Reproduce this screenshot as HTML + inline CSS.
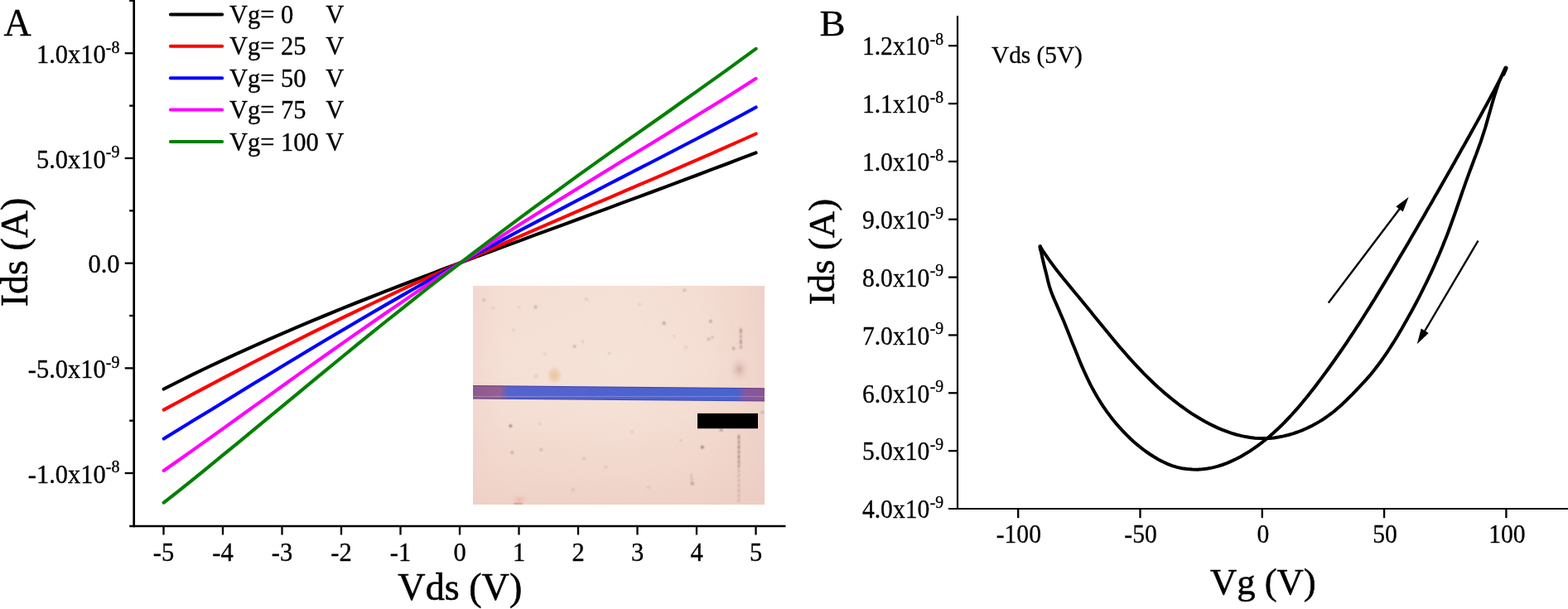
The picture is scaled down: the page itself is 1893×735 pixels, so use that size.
<!DOCTYPE html>
<html lang="en">
<head>
<meta charset="utf-8">
<title>Ids-Vds and Ids-Vg characteristics</title>
<style>
html, body { margin: 0; padding: 0; background: #ffffff; }
body { width: 1893px; height: 735px; overflow: hidden; }
svg { display: block; }
text { font-family: "Liberation Serif", "Times New Roman", serif; fill: #000; stroke: #000; stroke-width: 0.33px; stroke-linejoin: round; }
.pb text { stroke-width: 0.3px; }
text.ttl, .pb text.ttl { stroke-width: 0.55px; }
</style>
</head>
<body>
<svg width="1893" height="735" viewBox="0 0 1893 735">
<rect x="0" y="0" width="1893" height="735" fill="#ffffff"/>
<line x1="161.7" y1="0" x2="161.7" y2="636.35" stroke="#000" stroke-width="2.7"/>
<line x1="156.2" y1="635.0" x2="948.5" y2="635.0" stroke="#000" stroke-width="2.7"/>
<line x1="150.7" y1="571.05" x2="161.7" y2="571.05" stroke="#000" stroke-width="2.3"/>
<line x1="156.2" y1="507.70" x2="161.7" y2="507.70" stroke="#000" stroke-width="2.3"/>
<line x1="150.7" y1="444.35" x2="161.7" y2="444.35" stroke="#000" stroke-width="2.3"/>
<line x1="156.2" y1="381.00" x2="161.7" y2="381.00" stroke="#000" stroke-width="2.3"/>
<line x1="150.7" y1="317.65" x2="161.7" y2="317.65" stroke="#000" stroke-width="2.3"/>
<line x1="156.2" y1="254.30" x2="161.7" y2="254.30" stroke="#000" stroke-width="2.3"/>
<line x1="150.7" y1="190.95" x2="161.7" y2="190.95" stroke="#000" stroke-width="2.3"/>
<line x1="156.2" y1="127.60" x2="161.7" y2="127.60" stroke="#000" stroke-width="2.3"/>
<line x1="150.7" y1="64.25" x2="161.7" y2="64.25" stroke="#000" stroke-width="2.3"/>
<line x1="156.2" y1="0.90" x2="161.7" y2="0.90" stroke="#000" stroke-width="2.3"/>
<line x1="197.50" y1="635.0" x2="197.50" y2="645.5" stroke="#000" stroke-width="2.3"/>
<line x1="269.00" y1="635.0" x2="269.00" y2="645.5" stroke="#000" stroke-width="2.3"/>
<line x1="340.50" y1="635.0" x2="340.50" y2="645.5" stroke="#000" stroke-width="2.3"/>
<line x1="412.00" y1="635.0" x2="412.00" y2="645.5" stroke="#000" stroke-width="2.3"/>
<line x1="483.50" y1="635.0" x2="483.50" y2="645.5" stroke="#000" stroke-width="2.3"/>
<line x1="555.00" y1="635.0" x2="555.00" y2="645.5" stroke="#000" stroke-width="2.3"/>
<line x1="626.50" y1="635.0" x2="626.50" y2="645.5" stroke="#000" stroke-width="2.3"/>
<line x1="698.00" y1="635.0" x2="698.00" y2="645.5" stroke="#000" stroke-width="2.3"/>
<line x1="769.50" y1="635.0" x2="769.50" y2="645.5" stroke="#000" stroke-width="2.3"/>
<line x1="841.00" y1="635.0" x2="841.00" y2="645.5" stroke="#000" stroke-width="2.3"/>
<line x1="912.50" y1="635.0" x2="912.50" y2="645.5" stroke="#000" stroke-width="2.3"/>
<text x="144.5" y="76.05" font-size="30.5" text-anchor="end">1.0x10<tspan font-size="20.0" dy="-12.5">-8</tspan></text>
<text x="144.5" y="202.75" font-size="30.5" text-anchor="end">5.0x10<tspan font-size="20.0" dy="-12.5">-9</tspan></text>
<text x="144.5" y="329.45" font-size="30.5" text-anchor="end">0.0</text>
<text x="144.5" y="456.15" font-size="30.5" text-anchor="end">-5.0x10<tspan font-size="20.0" dy="-12.5">-9</tspan></text>
<text x="144.5" y="582.85" font-size="30.5" text-anchor="end">-1.0x10<tspan font-size="20.0" dy="-12.5">-8</tspan></text>
<text x="197.50" y="677.0" font-size="30.5" text-anchor="middle">-5</text>
<text x="269.00" y="677.0" font-size="30.5" text-anchor="middle">-4</text>
<text x="340.50" y="677.0" font-size="30.5" text-anchor="middle">-3</text>
<text x="412.00" y="677.0" font-size="30.5" text-anchor="middle">-2</text>
<text x="483.50" y="677.0" font-size="30.5" text-anchor="middle">-1</text>
<text x="555.00" y="677.0" font-size="30.5" text-anchor="middle">0</text>
<text x="626.50" y="677.0" font-size="30.5" text-anchor="middle">1</text>
<text x="698.00" y="677.0" font-size="30.5" text-anchor="middle">2</text>
<text x="769.50" y="677.0" font-size="30.5" text-anchor="middle">3</text>
<text x="841.00" y="677.0" font-size="30.5" text-anchor="middle">4</text>
<text x="912.50" y="677.0" font-size="30.5" text-anchor="middle">5</text>
<text class="ttl" transform="translate(555.3,724.3) scale(1.012,1)" font-size="45.6" text-anchor="middle">Vds (V)</text>
<text class="ttl" transform="translate(32.6,304.5) rotate(-90)" font-size="46" text-anchor="middle">Ids (A)</text>
<text x="4.5" y="43.3" font-size="46">A</text>
<line x1="205.9" y1="17.40" x2="268.2" y2="17.40" stroke="#000000" stroke-width="4" stroke-linecap="round"/>
<text y="27.90" font-size="30.5" style="white-space:pre"><tspan x="276.9">Vg= 0</tspan><tspan x="393.3">V</tspan></text>
<line x1="205.9" y1="55.80" x2="268.2" y2="55.80" stroke="#ff0000" stroke-width="4" stroke-linecap="round"/>
<text y="66.30" font-size="30.5" style="white-space:pre"><tspan x="276.9">Vg= 25</tspan><tspan x="393.3">V</tspan></text>
<line x1="205.9" y1="94.20" x2="268.2" y2="94.20" stroke="#0000ff" stroke-width="4" stroke-linecap="round"/>
<text y="104.70" font-size="30.5" style="white-space:pre"><tspan x="276.9">Vg= 50</tspan><tspan x="393.3">V</tspan></text>
<line x1="205.9" y1="132.60" x2="268.2" y2="132.60" stroke="#ff00ff" stroke-width="4" stroke-linecap="round"/>
<text y="143.10" font-size="30.5" style="white-space:pre"><tspan x="276.9">Vg= 75</tspan><tspan x="393.3">V</tspan></text>
<line x1="205.9" y1="171.00" x2="268.2" y2="171.00" stroke="#008000" stroke-width="4" stroke-linecap="round"/>
<text y="181.50" font-size="30.5" style="white-space:pre"><tspan x="276.9">Vg= 100</tspan><tspan x="393.3">V</tspan></text>
<polyline points="197.7,469.5 215.6,460.5 233.4,451.6 251.3,443.0 269.2,434.6 287.1,426.3 304.9,418.3 322.8,410.3 340.7,402.6 358.6,394.9 376.4,387.4 394.3,380.0 412.2,372.7 430.0,365.5 447.9,358.5 465.8,351.4 483.7,344.5 501.5,337.6 519.4,330.8 537.3,324.0 555.2,317.3 573.0,310.7 590.9,304.0 608.8,297.4 626.6,290.8 644.5,284.2 662.4,277.6 680.3,271.1 698.1,264.5 716.0,257.9 733.9,251.3 751.7,244.7 769.6,238.1 787.5,231.5 805.4,224.8 823.2,218.2 841.1,211.5 859.0,204.7 876.9,198.0 894.7,191.2 912.6,184.4" fill="none" stroke="#000000" stroke-width="4.1" stroke-linecap="round" stroke-linejoin="round"/>
<polyline points="197.7,494.6 215.6,485.0 233.4,475.4 251.3,465.9 269.2,456.4 287.1,447.1 304.9,437.8 322.8,428.7 340.7,419.6 358.6,410.6 376.4,401.7 394.3,392.9 412.2,384.2 430.0,375.6 447.9,367.0 465.8,358.6 483.7,350.2 501.5,341.9 519.4,333.7 537.3,325.5 555.2,317.4 573.0,309.4 590.9,301.4 608.8,293.5 626.6,285.7 644.5,277.9 662.4,270.1 680.3,262.3 698.1,254.6 716.0,246.9 733.9,239.3 751.7,231.6 769.6,223.9 787.5,216.3 805.4,208.6 823.2,200.8 841.1,193.1 859.0,185.3 876.9,177.4 894.7,169.5 912.6,161.5" fill="none" stroke="#ff0000" stroke-width="4.1" stroke-linecap="round" stroke-linejoin="round"/>
<polyline points="197.7,529.5 215.6,518.6 233.4,507.6 251.3,496.7 269.2,485.7 287.1,474.7 304.9,463.8 322.8,452.9 340.7,442.0 358.6,431.2 376.4,420.5 394.3,409.8 412.2,399.2 430.0,388.7 447.9,378.2 465.8,367.9 483.7,357.6 501.5,347.5 519.4,337.4 537.3,327.4 555.2,317.5 573.0,307.7 590.9,298.0 608.8,288.4 626.6,278.8 644.5,269.4 662.4,260.0 680.3,250.6 698.1,241.3 716.0,232.1 733.9,222.8 751.7,213.6 769.6,204.4 787.5,195.2 805.4,186.0 823.2,176.8 841.1,167.5 859.0,158.1 876.9,148.7 894.7,139.2 912.6,129.5" fill="none" stroke="#0000ff" stroke-width="4.1" stroke-linecap="round" stroke-linejoin="round"/>
<polyline points="197.7,568.0 215.6,555.5 233.4,542.8 251.3,530.1 269.2,517.3 287.1,504.5 304.9,491.6 322.8,478.8 340.7,466.0 358.6,453.2 376.4,440.4 394.3,427.8 412.2,415.1 430.0,402.6 447.9,390.2 465.8,377.8 483.7,365.6 501.5,353.4 519.4,341.4 537.3,329.5 555.2,317.7 573.0,306.0 590.9,294.4 608.8,282.9 626.6,271.5 644.5,260.2 662.4,249.1 680.3,238.0 698.1,226.9 716.0,216.0 733.9,205.0 751.7,194.1 769.6,183.3 787.5,172.4 805.4,161.5 823.2,150.6 841.1,139.6 859.0,128.6 876.9,117.5 894.7,106.2 912.6,94.8" fill="none" stroke="#ff00ff" stroke-width="4.1" stroke-linecap="round" stroke-linejoin="round"/>
<polyline points="197.7,606.7 215.6,592.6 233.4,578.3 251.3,563.8 269.2,549.2 287.1,534.6 304.9,519.8 322.8,505.1 340.7,490.3 358.6,475.6 376.4,460.8 394.3,446.1 412.2,431.5 430.0,416.9 447.9,402.4 465.8,388.0 483.7,373.8 501.5,359.6 519.4,345.5 537.3,331.6 555.2,317.8 573.0,304.1 590.9,290.6 608.8,277.1 626.6,263.8 644.5,250.6 662.4,237.6 680.3,224.6 698.1,211.7 716.0,198.9 733.9,186.2 751.7,173.5 769.6,160.9 787.5,148.3 805.4,135.7 823.2,123.0 841.1,110.4 859.0,97.7 876.9,84.8 894.7,71.9 912.6,58.8" fill="none" stroke="#008000" stroke-width="4.1" stroke-linecap="round" stroke-linejoin="round"/>
<defs>
<linearGradient id="bgv" x1="0" y1="0" x2="0" y2="1">
<stop offset="0" stop-color="#f5e0d5"/><stop offset="0.35" stop-color="#f6e3d8"/><stop offset="0.58" stop-color="#f5e0d5"/><stop offset="0.8" stop-color="#f2d9ce"/><stop offset="1" stop-color="#eed2c8"/>
</linearGradient>
<linearGradient id="bgh" x1="0" y1="0" x2="1" y2="0">
<stop offset="0" stop-color="#efcdc6" stop-opacity="0.45"/><stop offset="0.12" stop-color="#f0d2c9" stop-opacity="0.15"/><stop offset="0.5" stop-color="#f0d2c9" stop-opacity="0"/>
<stop offset="0.78" stop-color="#edcdc3" stop-opacity="0.2"/><stop offset="1" stop-color="#eac9bf" stop-opacity="0.6"/>
</linearGradient>
<linearGradient id="stripe" x1="0" y1="0" x2="1" y2="0">
<stop offset="0" stop-color="#8b5a8e"/><stop offset="0.095" stop-color="#985f92"/><stop offset="0.125" stop-color="#5763cc"/>
<stop offset="0.5" stop-color="#4f62cf"/><stop offset="0.9" stop-color="#4763d0"/><stop offset="0.93" stop-color="#8657a0"/><stop offset="1" stop-color="#8a5596"/>
</linearGradient>
<linearGradient id="stripeedge" x1="0" y1="0" x2="1" y2="0">
<stop offset="0" stop-color="#6a3c72"/><stop offset="0.11" stop-color="#5c3a7a"/><stop offset="0.14" stop-color="#3f45ac"/>
<stop offset="0.9" stop-color="#3e4cb4"/><stop offset="0.93" stop-color="#673f86"/><stop offset="1" stop-color="#6c4180"/>
</linearGradient>
<radialGradient id="smudge1"><stop offset="0" stop-color="#ecc29f" stop-opacity="1"/><stop offset="0.55" stop-color="#efcbaf" stop-opacity="0.75"/><stop offset="1" stop-color="#f5dfd3" stop-opacity="0"/></radialGradient>
<radialGradient id="smudge2"><stop offset="0" stop-color="#cfaaa6" stop-opacity="0.9"/><stop offset="0.5" stop-color="#e6c6be" stop-opacity="0.5"/><stop offset="1" stop-color="#f3dbd0" stop-opacity="0"/></radialGradient>
<radialGradient id="smudge3"><stop offset="0" stop-color="#e8907a" stop-opacity="0.9"/><stop offset="1" stop-color="#f2c4b4" stop-opacity="0"/></radialGradient>
<filter id="soft" x="-50%" y="-50%" width="200%" height="200%"><feGaussianBlur stdDeviation="0.8"/></filter>
<filter id="soft2" x="-20%" y="-50%" width="140%" height="200%"><feGaussianBlur stdDeviation="0.45"/></filter>
<clipPath id="insetclip"><rect x="571" y="345" width="352" height="264"/></clipPath>
</defs>
<g clip-path="url(#insetclip)">
<rect x="571" y="345" width="352" height="264" fill="url(#bgv)"/>
<rect x="571" y="345" width="352" height="264" fill="url(#bgh)"/>
<ellipse cx="669.3" cy="452.8" rx="10.5" ry="12.5" fill="url(#smudge1)"/>
<ellipse cx="647" cy="454" rx="5" ry="5" fill="url(#smudge2)" opacity="0.5"/>
<ellipse cx="892.5" cy="446" rx="15" ry="19" fill="url(#smudge2)"/>
<ellipse cx="828" cy="419" rx="5" ry="6" fill="url(#smudge2)" opacity="0.45"/>
<ellipse cx="627" cy="603" rx="11" ry="7" fill="url(#smudge3)" opacity="0.45"/>
<ellipse cx="625.5" cy="607.8" rx="6" ry="1.6" fill="#e39a80" opacity="0.75"/>
<g filter="url(#soft)" fill="#4a3a3a">
<circle cx="584.1" cy="362.1" r="1.2" opacity="0.45"/>
<circle cx="595.4" cy="371.8" r="1.0" opacity="0.3"/>
<circle cx="646.7" cy="370.4" r="1.3" opacity="0.5"/>
<circle cx="626.9" cy="370.9" r="1.0" opacity="0.25"/>
<circle cx="693.7" cy="418.1" r="1.4" opacity="0.5"/>
<circle cx="703.4" cy="412.5" r="1.0" opacity="0.3"/>
<circle cx="620.2" cy="398.3" r="1.1" opacity="0.3"/>
<circle cx="707.9" cy="361.2" r="1.2" opacity="0.25"/>
<circle cx="658.2" cy="427.0" r="1.0" opacity="0.25"/>
<circle cx="735.6" cy="426.6" r="1.0" opacity="0.3"/>
<circle cx="826.3" cy="350.3" r="1.2" opacity="0.45"/>
<circle cx="801.6" cy="389.9" r="1.5" opacity="0.6"/>
<circle cx="857.8" cy="387.7" r="1.5" opacity="0.5"/>
<circle cx="855.5" cy="409.3" r="1.2" opacity="0.5"/>
<circle cx="859.9" cy="407.2" r="1.1" opacity="0.45"/>
<circle cx="885.6" cy="420.4" r="1.4" opacity="0.5"/>
<circle cx="814.0" cy="405.8" r="1.0" opacity="0.3"/>
<circle cx="772.4" cy="367.4" r="1.1" opacity="0.25"/>
<circle cx="616.4" cy="514.0" r="1.6" opacity="0.75"/>
<circle cx="618.3" cy="546.1" r="1.2" opacity="0.6"/>
<circle cx="653.2" cy="542.8" r="1.3" opacity="0.4"/>
<circle cx="651.3" cy="511.6" r="1.0" opacity="0.25"/>
<circle cx="705.0" cy="553.5" r="1.3" opacity="0.3"/>
<circle cx="731.2" cy="563.6" r="1.2" opacity="0.25"/>
<circle cx="691.7" cy="591.1" r="1.3" opacity="0.25"/>
<circle cx="870.8" cy="519.1" r="1.4" opacity="0.7"/>
<circle cx="847.9" cy="539.7" r="1.6" opacity="0.75"/>
<circle cx="835.9" cy="583.8" r="1.5" opacity="0.5"/>
<circle cx="763.4" cy="520.8" r="1.1" opacity="0.25"/>
<circle cx="782.7" cy="588.0" r="1.1" opacity="0.3"/>
<circle cx="920.4" cy="497.5" r="1.1" opacity="0.6"/>
<circle cx="822.1" cy="531.4" r="1.0" opacity="0.25"/>
</g>
<g filter="url(#soft)" stroke="#5a4648" fill="none">
<line x1="894.4" y1="396.5" x2="894.4" y2="421" stroke-width="1.7" stroke-dasharray="6 2 3 2" opacity="0.65"/>
<line x1="892" y1="525" x2="892" y2="564" stroke-width="1.7" stroke-dasharray="5 1.5 4 1.5" opacity="0.7"/>
<line x1="892" y1="566" x2="892" y2="605" stroke-width="1.5" stroke-dasharray="4 2" opacity="0.4"/>
<line x1="834.3" y1="572" x2="835.6" y2="583" stroke-width="1.2" opacity="0.3"/>
</g>
<g filter="url(#soft2)">
<polygon points="569,464.9 925,468.3 925,484.5 569,481.6" fill="url(#stripeedge)"/>
<polygon points="569,466.0 925,469.4 925,483.4 569,480.5" fill="url(#stripe)"/>
</g>
<line x1="571" y1="478.6" x2="923" y2="478.6" stroke="#c9c4ee" stroke-width="0.8" opacity="0.5"/>
<rect x="842" y="498.9" width="73" height="18.3" fill="#000"/>
</g>
<g class="pb">
<line x1="1156.0" y1="19" x2="1156.0" y2="615.1" stroke="#000" stroke-width="2.2"/>
<line x1="1145.0" y1="614.0" x2="1893" y2="614.0" stroke="#000" stroke-width="2.2"/>
<line x1="1145.0" y1="55.20" x2="1156.0" y2="55.20" stroke="#000" stroke-width="2.3"/>
<text transform="translate(1139.2,66.40) scale(0.962,1)" font-size="30.8" text-anchor="end">1.2x10<tspan font-size="20.5" dx="0.4" dy="-12.4">-8</tspan></text>
<line x1="1145.0" y1="125.05" x2="1156.0" y2="125.05" stroke="#000" stroke-width="2.3"/>
<text transform="translate(1139.2,136.25) scale(0.962,1)" font-size="30.8" text-anchor="end">1.1x10<tspan font-size="20.5" dx="0.4" dy="-12.4">-8</tspan></text>
<line x1="1145.0" y1="194.90" x2="1156.0" y2="194.90" stroke="#000" stroke-width="2.3"/>
<text transform="translate(1139.2,206.10) scale(0.962,1)" font-size="30.8" text-anchor="end">1.0x10<tspan font-size="20.5" dx="0.4" dy="-12.4">-8</tspan></text>
<line x1="1145.0" y1="264.75" x2="1156.0" y2="264.75" stroke="#000" stroke-width="2.3"/>
<text transform="translate(1139.2,275.95) scale(0.962,1)" font-size="30.8" text-anchor="end">9.0x10<tspan font-size="20.5" dx="0.4" dy="-12.4">-9</tspan></text>
<line x1="1145.0" y1="334.60" x2="1156.0" y2="334.60" stroke="#000" stroke-width="2.3"/>
<text transform="translate(1139.2,345.80) scale(0.962,1)" font-size="30.8" text-anchor="end">8.0x10<tspan font-size="20.5" dx="0.4" dy="-12.4">-9</tspan></text>
<line x1="1145.0" y1="404.45" x2="1156.0" y2="404.45" stroke="#000" stroke-width="2.3"/>
<text transform="translate(1139.2,415.65) scale(0.962,1)" font-size="30.8" text-anchor="end">7.0x10<tspan font-size="20.5" dx="0.4" dy="-12.4">-9</tspan></text>
<line x1="1145.0" y1="474.30" x2="1156.0" y2="474.30" stroke="#000" stroke-width="2.3"/>
<text transform="translate(1139.2,485.50) scale(0.962,1)" font-size="30.8" text-anchor="end">6.0x10<tspan font-size="20.5" dx="0.4" dy="-12.4">-9</tspan></text>
<line x1="1145.0" y1="544.15" x2="1156.0" y2="544.15" stroke="#000" stroke-width="2.3"/>
<text transform="translate(1139.2,555.35) scale(0.962,1)" font-size="30.8" text-anchor="end">5.0x10<tspan font-size="20.5" dx="0.4" dy="-12.4">-9</tspan></text>
<text transform="translate(1139.2,625.20) scale(0.962,1)" font-size="30.8" text-anchor="end">4.0x10<tspan font-size="20.5" dx="0.4" dy="-12.4">-9</tspan></text>
<line x1="1229.20" y1="614.0" x2="1229.20" y2="625.2" stroke="#000" stroke-width="2.3"/>
<text transform="translate(1229.80,654.8) scale(0.962,1)" font-size="30.8" text-anchor="middle">-100</text>
<line x1="1376.50" y1="614.0" x2="1376.50" y2="625.2" stroke="#000" stroke-width="2.3"/>
<text transform="translate(1377.10,654.8) scale(0.962,1)" font-size="30.8" text-anchor="middle">-50</text>
<line x1="1523.80" y1="614.0" x2="1523.80" y2="625.2" stroke="#000" stroke-width="2.3"/>
<text transform="translate(1524.80,654.8) scale(0.962,1)" font-size="30.8" text-anchor="middle">0</text>
<line x1="1671.10" y1="614.0" x2="1671.10" y2="625.2" stroke="#000" stroke-width="2.3"/>
<text transform="translate(1672.10,654.8) scale(0.962,1)" font-size="30.8" text-anchor="middle">50</text>
<line x1="1818.40" y1="614.0" x2="1818.40" y2="625.2" stroke="#000" stroke-width="2.3"/>
<text transform="translate(1819.40,654.8) scale(0.962,1)" font-size="30.8" text-anchor="middle">100</text>
<text class="ttl" x="1524.8" y="716.5" font-size="44.7" text-anchor="middle">Vg (V)</text>
<text class="ttl" transform="translate(1007,304) rotate(-90)" font-size="44.8" text-anchor="middle">Ids (A)</text>
<text transform="translate(989.4,43) scale(1.06,1)" font-size="44">B</text>
<text x="1197" y="75.6" font-size="29.3">Vds (5V)</text>
</g>
<path d="M1255.8,297.6 L1256.9,303.7 L1258.1,309.7 L1259.5,315.7 L1260.9,321.7 L1262.4,327.6 L1263.9,333.6 L1265.3,339.6 L1266.9,345.5 L1268.8,351.4 L1271.0,357.1 L1273.4,362.8 L1275.9,368.4 L1278.4,374.1 L1280.8,379.7 L1283.2,385.3 L1285.6,391.0 L1287.9,396.7 L1290.2,402.4 L1292.4,408.1 L1294.7,413.9 L1297.0,419.6 L1299.3,425.3 L1301.6,431.0 L1303.9,436.7 L1306.3,442.4 L1308.8,448.0 L1311.4,453.6 L1314.0,459.1 L1316.7,464.6 L1319.6,470.1 L1322.6,475.4 L1325.7,480.7 L1328.9,485.9 L1332.3,491.1 L1335.8,496.2 L1339.5,501.1 L1343.2,506.0 L1347.1,510.8 L1351.2,515.4 L1355.3,520.0 L1359.6,524.4 L1364.0,528.7 L1368.6,532.9 L1373.2,536.9 L1378.0,540.8 L1382.9,544.5 L1387.9,548.0 L1393.1,551.3 L1398.4,554.4 L1403.8,557.3 L1409.4,559.9 L1415.1,562.1 L1421.0,563.9 L1427.0,565.2 L1433.1,566.1 L1439.3,566.6 L1445.5,566.7 L1451.6,566.3 L1457.8,565.5 L1463.8,564.4 L1469.8,562.9 L1475.7,561.0 L1481.5,558.9 L1487.1,556.4 L1492.7,553.8 L1498.1,550.9 L1503.4,547.8 L1508.7,544.6 L1513.8,541.2 L1518.8,537.7 L1523.6,534.0 L1528.4,530.2 L1533.1,526.3 L1537.7,522.2 L1542.2,518.1 L1546.7,513.8 L1551.0,509.5 L1555.3,505.0 L1559.5,500.5 L1563.6,495.9 L1567.7,491.3 L1571.7,486.5 L1575.6,481.8 L1579.5,476.9 L1583.4,472.1 L1587.2,467.2 L1590.9,462.3 L1594.6,457.4 L1598.3,452.4 L1601.9,447.5 L1605.5,442.5 L1609.1,437.5 L1612.6,432.5 L1616.1,427.5 L1619.6,422.5 L1623.1,417.4 L1626.5,412.3 L1629.9,407.2 L1633.3,402.1 L1636.6,397.0 L1640.0,391.9 L1643.3,386.7 L1646.6,381.5 L1649.9,376.3 L1653.2,371.1 L1656.4,365.9 L1659.7,360.7 L1662.9,355.4 L1666.1,350.1 L1669.3,344.9 L1672.5,339.6 L1675.7,334.3 L1678.9,329.0 L1682.0,323.7 L1685.2,318.4 L1688.3,313.1 L1691.4,307.8 L1694.6,302.5 L1697.7,297.2 L1700.8,291.9 L1703.9,286.6 L1707.0,281.2 L1710.1,275.9 L1713.2,270.6 L1716.3,265.3 L1719.4,260.0 L1722.4,254.6 L1725.5,249.3 L1728.6,244.0 L1731.6,238.6 L1734.7,233.3 L1737.7,228.0 L1740.8,222.6 L1743.8,217.3 L1746.8,211.9 L1749.9,206.6 L1752.9,201.2 L1755.9,195.9 L1758.9,190.5 L1761.9,185.2 L1764.9,179.8 L1768.0,174.4 L1771.0,169.1 L1774.0,163.7 L1777.0,158.3 L1780.0,152.9 L1782.9,147.6 L1785.9,142.2 L1788.9,136.8 L1791.8,131.4 L1794.8,126.0 L1797.7,120.6 L1800.6,115.1 L1803.6,109.7 L1806.4,104.3 L1809.3,98.9 L1812.2,93.4 L1815.0,88.0 L1817.8,82.5" fill="none" stroke="#000" stroke-width="4.0" stroke-linecap="round" stroke-linejoin="round"/>
<path d="M1255.8,297.6 L1258.9,302.5 L1262.2,307.4 L1265.5,312.2 L1268.9,316.9 L1272.4,321.6 L1275.9,326.2 L1279.5,330.7 L1283.1,335.3 L1286.8,339.8 L1290.5,344.3 L1294.2,348.8 L1297.9,353.3 L1301.7,357.7 L1305.4,362.2 L1309.1,366.8 L1312.8,371.3 L1316.5,375.8 L1320.2,380.4 L1323.9,384.9 L1327.6,389.5 L1331.3,394.0 L1335.0,398.6 L1338.7,403.1 L1342.4,407.6 L1346.2,412.1 L1349.9,416.6 L1353.7,421.0 L1357.6,425.4 L1361.4,429.8 L1365.3,434.1 L1369.2,438.4 L1373.2,442.7 L1377.2,446.9 L1381.2,451.1 L1385.3,455.2 L1389.5,459.3 L1393.7,463.3 L1398.0,467.2 L1402.3,471.1 L1406.7,474.9 L1411.2,478.6 L1415.7,482.3 L1420.3,485.9 L1425.0,489.5 L1429.8,492.9 L1434.6,496.3 L1439.5,499.6 L1444.6,502.7 L1449.6,505.8 L1454.8,508.7 L1460.0,511.5 L1465.3,514.1 L1470.6,516.6 L1476.0,518.8 L1481.5,520.9 L1487.0,522.8 L1492.5,524.5 L1498.1,525.9 L1503.7,527.1 L1509.4,528.0 L1515.0,528.7 L1520.7,529.0 L1526.5,529.1 L1532.2,528.9 L1538.0,528.4 L1543.7,527.5 L1549.5,526.4 L1555.2,525.0 L1560.8,523.4 L1566.4,521.5 L1572.0,519.3 L1577.4,517.0 L1582.8,514.4 L1588.1,511.6 L1593.2,508.6 L1598.2,505.5 L1603.0,502.2 L1607.7,498.7 L1612.2,495.1 L1616.6,491.3 L1620.9,487.4 L1625.0,483.5 L1629.1,479.4 L1633.2,475.3 L1637.2,471.1 L1641.2,466.9 L1645.2,462.6 L1649.2,458.3 L1653.1,453.9 L1656.8,449.4 L1660.5,444.8 L1664.0,440.2 L1667.5,435.5 L1670.9,430.7 L1674.2,425.9 L1677.4,421.0 L1680.5,416.1 L1683.6,411.2 L1686.7,406.2 L1689.6,401.2 L1692.6,396.2 L1695.5,391.1 L1698.4,386.0 L1701.2,380.9 L1704.1,375.8 L1706.8,370.7 L1709.6,365.5 L1712.3,360.3 L1715.0,355.1 L1717.6,349.9 L1720.2,344.7 L1722.8,339.4 L1725.3,334.2 L1727.8,328.9 L1730.2,323.6 L1732.6,318.2 L1734.9,312.9 L1737.3,307.5 L1739.5,302.2 L1741.8,296.8 L1743.9,291.3 L1746.1,285.9 L1748.2,280.5 L1750.2,275.0 L1752.2,269.5 L1754.2,264.0 L1756.2,258.5 L1758.1,253.0 L1760.0,247.5 L1761.9,242.0 L1763.8,236.5 L1765.7,230.9 L1767.7,225.4 L1769.6,219.9 L1771.6,214.4 L1773.6,208.9 L1775.6,203.5 L1777.7,198.0 L1779.7,192.5 L1781.8,187.1 L1783.8,181.6 L1785.8,176.1 L1787.8,170.6 L1789.6,165.1 L1791.4,159.6 L1793.2,154.0 L1794.8,148.4 L1796.4,142.7 L1798.0,137.1 L1799.6,131.5 L1801.2,125.8 L1802.8,120.2 L1804.5,114.6 L1806.3,109.1 L1808.1,103.6 L1810.1,98.1 L1812.4,92.8 L1814.9,87.5 L1817.8,82.5" fill="none" stroke="#000" stroke-width="4.0" stroke-linecap="round" stroke-linejoin="round"/>
<line x1="1814.8" y1="89.5" x2="1817.9" y2="82.3" stroke="#000" stroke-width="5.3" stroke-linecap="round"/>
<line x1="1255.7" y1="297.5" x2="1256.3" y2="301.5" stroke="#000" stroke-width="4.6" stroke-linecap="round"/>
<line x1="1603.8" y1="365.5" x2="1690.7" y2="250.8" stroke="#000" stroke-width="2.4"/>
<polygon points="1700.7,237.7 1693.7,255.6 1685.3,249.3" fill="#000"/>
<line x1="1784.5" y1="290.5" x2="1719.2" y2="401.0" stroke="#000" stroke-width="2.4"/>
<polygon points="1710.8,415.2 1715.7,396.6 1724.7,401.9" fill="#000"/>
</svg>
</body>
</html>
